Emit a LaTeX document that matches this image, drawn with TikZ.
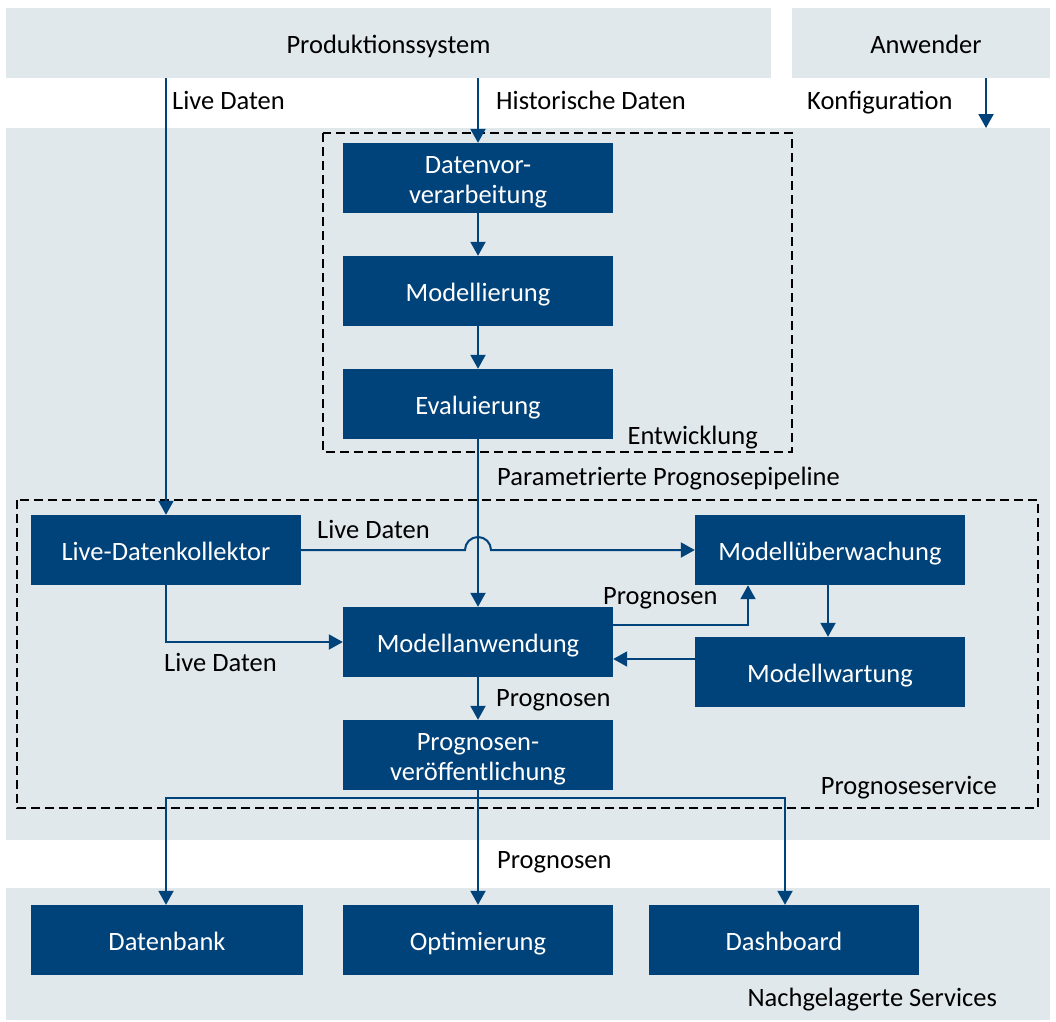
\documentclass[tikz,border=0pt]{standalone}
\usepackage{fontspec}
\setmainfont{Carlito}
\usetikzlibrary{arrows.meta}
\definecolor{dblue}{HTML}{00427A}
\definecolor{lgray}{HTML}{E1E8EC}
\newcommand\bt[1]{\raisebox{-4.5pt}[\height][\depth]{\begin{tabular}{@{}c@{}}#1\end{tabular}}}
\begin{document}
\begin{tikzpicture}[x=1pt,y=-1pt,
  font=\fontsize{26.5}{30}\selectfont,
  region/.style={fill=lgray, inner sep=0pt},
  box/.style={fill=dblue, text=white, minimum width=270pt, minimum height=70pt, inner sep=0pt},
  lbl/.style={text=black, inner sep=0pt, text height=18pt, text depth=6pt},
  arr/.style={draw=dblue, line width=2pt, -{Triangle[length=14pt,width=15pt]}},
  ln/.style={draw=dblue, line width=2pt},
  dbox/.style={draw=black, line width=2.5pt, dash pattern=on 9pt off 5pt}]
\useasboundingbox (0,0) rectangle (1056,1021);
\fill[white] (0,0) rectangle (1056,1021);
% regions
\node[region, minimum width=765pt, minimum height=70pt] (prod) at (388.5,43) {\bt{Produktionssystem}};
\node[region, minimum width=258pt, minimum height=70pt] (anw) at (921,43) {\bt{\hspace*{10pt}Anwender}};
\fill[lgray] (6,128) rectangle (1050,840);
\fill[lgray] (6,888) rectangle (1050,1020);
% dashed groups
\draw[dbox] (323,133) rectangle (792,452);
\draw[dbox] (17,500) rectangle (1038,808);
% boxes
\node[box] (dv) at (478,178) {\bt{Datenvor-\\verarbeitung}};
\node[box] (mod) at (478,291) {\bt{Modellierung}};
\node[box] (ev) at (478,404) {\bt{Evaluierung}};
\node[box] (ldk) at (166,550) {\bt{Live-Datenkollektor}};
\node[box] (mu) at (830,550) {\bt{Modellüberwachung}};
\node[box] (ma) at (478,642) {\bt{Modellanwendung}};
\node[box] (mw) at (830,672) {\bt{Modellwartung}};
\node[box] (pv) at (478,755) {\bt{Prognosen-\\veröffentlichung}};
\node[box, minimum width=272pt] (db) at (167,940) {\bt{Datenbank}};
\node[box] (op) at (478,940) {\bt{Optimierung}};
\node[box] (dash) at (784,940) {\bt{Dashboard}};
% coordinates
\coordinate (cfg) at (986,128);
\coordinate (sp) at (478,798);
% arrows
\draw[arr] (prod.south -| ldk.north) -- (ldk.north);
\draw[arr] (prod.south -| dv.north) -- (dv.north);
\draw[arr] (anw.south -| cfg) -- (cfg);
\draw[arr] (dv) -- (mod);
\draw[arr] (mod) -- (ev);
\draw[arr] (ev) -- (ma);
\draw[arr] (ldk.east) -- (465,550) arc (180:360:13) -- (mu.west);
\draw[arr] (ldk.south) |- (ma.west);
\draw[arr] ([yshift=17pt]ma.east) -| ([xshift=-82pt]mu.south);
\draw[arr] ([xshift=-2pt]mu.south) -- ([xshift=-2pt]mw.north);
\draw[arr] ([yshift=13pt]mw.west) -- ([yshift=13pt]mw.west -| ma.east);
\draw[arr] (ma) -- (pv);
\draw[ln] (pv.south) -- (sp);
\draw[arr] (sp) -| ([xshift=-1pt]db.north);
\draw[arr] (sp) -- (op.north);
\draw[arr] (sp) -| ([xshift=1pt]dash.north);
% labels
\node[lbl, anchor=west] (l1) at (172,103.5) {Live Daten};
\node[lbl, anchor=west] (l2) at (496,103.5) {Historische Daten};
\node[lbl, anchor=west] (l3) at (807,103.5) {Konfiguration};
\node[lbl, anchor=east] (l4) at (758,438.5) {Entwicklung};
\node[lbl, anchor=west] (l5) at (497,479.5) {Parametrierte Prognosepipeline};
\node[lbl, anchor=west] (l6) at (317,532.5) {Live Daten};
\node[lbl, anchor=west] (l7) at (603,598.5) {Prognosen};
\node[lbl, anchor=west] (l8) at (164,665.5) {Live Daten};
\node[lbl, anchor=west] (l9) at (496,700.5) {Prognosen};
\node[lbl, anchor=east] (l10) at (997,788.5) {Prognoseservice};
\node[lbl, anchor=west] (l11) at (497,862.5) {Prognosen};
\node[lbl, anchor=east] (l12) at (997,1000.5) {Nachgelagerte Services};
\end{tikzpicture}
\end{document}
